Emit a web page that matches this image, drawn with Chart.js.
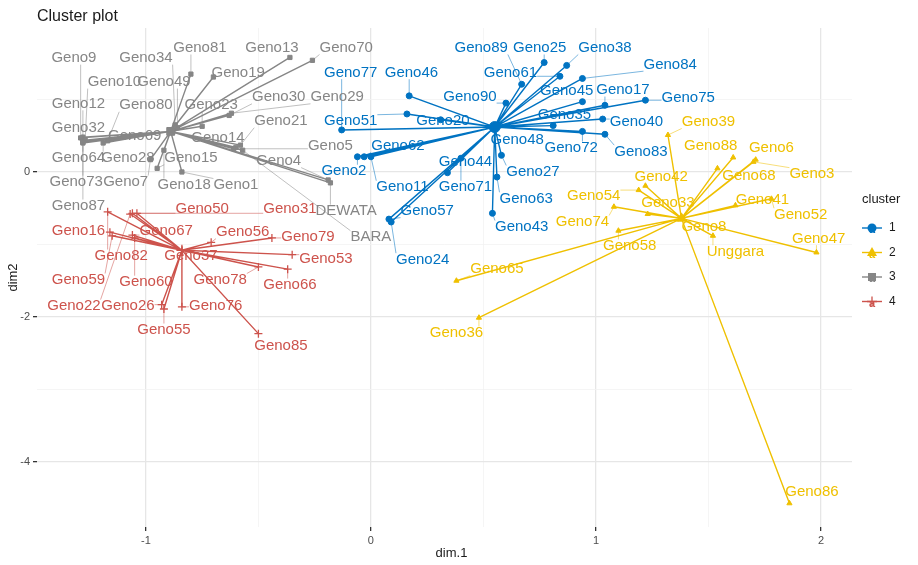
<!DOCTYPE html>
<html>
<head>
<meta charset="utf-8">
<script src="https://cdn.jsdelivr.net/npm/chart.js@4.4.1/dist/chart.umd.min.js"></script>
<style>
  body { margin: 0; background: #fff; }
  canvas { display: block; }
</style>
</head>
<body>
<canvas id="chart" width="918" height="565"></canvas>
<script>
// ================= DATA =================
const clusterIds = ['1', '2', '3', '4'];

// cluster 1 (blue)
const c1Names = ['Geno77','Geno46','Geno51','Geno20','Geno2','Geno62','Geno11','Geno57','Geno24','Geno44','Geno71','Geno43','Geno63','Geno27','Geno48','Geno90','Geno89','Geno25','Geno38','Geno61','Geno84','Geno45','Geno17','Geno75','Geno40','Geno83','Geno72','Geno35'];
const c1Dim1 = [-0.13,0.17,0.16,0.31,-0.06,-0.03,0.00,0.08,0.09,0.34,0.40,0.54,0.56,0.58,0.55,0.60,0.67,0.77,0.87,0.84,0.94,0.94,1.04,1.22,1.03,1.04,0.94,0.81];
const c1Dim2 = [0.58,1.05,0.80,0.72,0.21,0.21,0.21,-0.65,-0.69,-0.01,0.19,-0.57,-0.07,0.23,0.61,0.95,1.21,1.51,1.47,1.32,1.29,0.97,0.92,0.99,0.73,0.52,0.56,0.64];

// cluster 2 (yellow)
const c2Names = ['Geno8','Geno39','Geno88','Geno68','Geno6','Geno3','Geno42','Geno54','Geno74','Geno33','Geno58','Geno65','Geno36','Geno52','Geno41','Geno47','Unggara','Geno86'];
const c2Dim1 = [1.38,1.32,1.61,1.54,1.71,1.70,1.22,1.19,1.08,1.23,1.10,0.38,0.48,1.78,1.62,1.98,1.52,1.86];
const c2Dim2 = [-0.63,0.51,0.20,0.05,0.17,0.14,-0.19,-0.25,-0.48,-0.58,-0.81,-1.50,-2.01,-0.37,-0.46,-1.11,-0.88,-4.57];

// cluster 3 (grey)
const c3Names = ['Geno13','Geno70','Geno81','Geno19','Geno30','Geno29','Geno23','Geno21','Geno14','Geno5','Geno4','DEWATA','BARA','Geno1','Geno15','Geno18','Geno7','Geno28','Geno80','Geno32','Geno9','Geno12','Geno10','Geno64','Geno73','Geno87','Geno34','Geno49','Geno69'];
const c3Dim1 = [-0.36,-0.26,-0.80,-0.70,-0.63,-0.62,-0.75,-0.58,-0.60,-0.61,-0.19,-0.18,-0.57,-0.84,-0.95,-0.92,-0.98,-1.19,-1.17,-1.28,-1.29,-1.28,-1.27,-1.28,-1.28,-1.28,-0.87,-0.86,-0.88];
const c3Dim2 = [1.58,1.54,1.35,1.31,0.78,0.81,0.63,0.37,0.34,0.32,-0.11,-0.15,0.30,0.00,0.05,0.30,0.17,0.40,0.43,0.43,0.47,0.48,0.44,0.40,0.41,0.42,0.65,0.61,0.55];

// cluster 4 (red)
const c4Names = ['Geno37','Geno50','Geno31','Geno22','Geno82','Geno16','Geno59','Geno67','Geno60','Geno56','Geno79','Geno53','Geno66','Geno78','Geno26','Geno55','Geno76','Geno85'];
const c4Dim1 = [-0.84,-1.06,-1.04,-1.07,-1.17,-1.16,-1.15,-1.06,-1.05,-0.71,-0.44,-0.35,-0.37,-0.50,-0.93,-0.92,-0.84,-0.50];
const c4Dim2 = [-1.08,-0.57,-0.57,-0.58,-0.55,-0.83,-0.88,-0.87,-0.91,-0.97,-0.91,-1.14,-1.34,-1.31,-1.83,-1.89,-1.86,-2.23];

// cluster centres
const centerDim1 = [0.55, 1.38, -0.89, -0.84];
const centerDim2 = [0.62, -0.64, 0.56, -1.08];

// tick labels
const xTickLabels = [-1, 0, 1, 2];
const yTickLabels = [-4, -2, 0];

// ================= LABEL PLACEMENT (repelled text, data units) =================
const labelAt = {
  Geno9:[-1.32,1.57], Geno34:[-1.00,1.57], Geno81:[-0.76,1.71], Geno13:[-0.44,1.71], Geno70:[-0.11,1.71],
  Geno10:[-1.14,1.24], Geno49:[-0.92,1.24], Geno19:[-0.59,1.37], Geno12:[-1.30,0.94], Geno80:[-1.00,0.92],
  Geno23:[-0.71,0.92], Geno30:[-0.41,1.03], Geno29:[-0.15,1.03], Geno32:[-1.30,0.61], Geno21:[-0.40,0.70],
  Geno69:[-1.05,0.50], Geno14:[-0.68,0.47], Geno5:[-0.18,0.36], Geno64:[-1.30,0.19], Geno28:[-1.08,0.19],
  Geno15:[-0.80,0.19], Geno4:[-0.41,0.15], Geno73:[-1.31,-0.14], Geno7:[-1.09,-0.14], Geno18:[-0.83,-0.18],
  Geno1:[-0.60,-0.18], Geno87:[-1.30,-0.47], DEWATA:[-0.11,-0.54], BARA:[0.00,-0.90],

  Geno89:[0.49,1.71], Geno25:[0.75,1.71], Geno38:[1.04,1.71], Geno84:[1.33,1.48], Geno77:[-0.09,1.37],
  Geno46:[0.18,1.37], Geno61:[0.62,1.37], Geno45:[0.87,1.12], Geno17:[1.12,1.13], Geno75:[1.41,1.02],
  Geno90:[0.44,1.03], Geno51:[-0.09,0.70], Geno20:[0.32,0.70], Geno35:[0.86,0.79], Geno40:[1.18,0.69],
  Geno62:[0.12,0.36], Geno48:[0.65,0.44], Geno72:[0.89,0.33], Geno83:[1.20,0.28], Geno2:[-0.12,0.01],
  Geno44:[0.42,0.14], Geno27:[0.72,0.00], Geno11:[0.14,-0.21], Geno71:[0.42,-0.21], Geno63:[0.69,-0.37],
  Geno57:[0.25,-0.54], Geno43:[0.67,-0.76], Geno24:[0.23,-1.21],

  Geno39:[1.50,0.69], Geno88:[1.51,0.36], Geno6:[1.78,0.33], Geno3:[1.96,-0.03], Geno42:[1.29,-0.07],
  Geno68:[1.68,-0.06], Geno54:[0.99,-0.33], Geno33:[1.32,-0.43], Geno41:[1.74,-0.39], Geno52:[1.91,-0.59],
  Geno74:[0.94,-0.69], Geno8:[1.48,-0.76], Geno58:[1.15,-1.02], Unggara:[1.62,-1.10], Geno47:[1.99,-0.92],
  Geno65:[0.56,-1.34], Geno36:[0.38,-2.22], Geno86:[1.96,-4.41],

  Geno50:[-0.75,-0.51], Geno31:[-0.36,-0.51], Geno16:[-1.30,-0.81], Geno67:[-0.91,-0.81], Geno56:[-0.57,-0.83],
  Geno79:[-0.28,-0.90], Geno82:[-1.11,-1.16], Geno37:[-0.80,-1.16], Geno53:[-0.20,-1.20], Geno59:[-1.30,-1.49],
  Geno60:[-1.00,-1.52], Geno78:[-0.67,-1.49], Geno66:[-0.36,-1.56], Geno22:[-1.32,-1.85], Geno26:[-1.08,-1.85],
  Geno76:[-0.69,-1.85], Geno55:[-0.92,-2.18], Geno85:[-0.40,-2.40]
};

// ================= STYLE =================
const colors = ['#0073C2', '#EFC000', '#868686', '#CD534C'];
const shapes = ['circle', 'triangle', 'rect', 'cross'];
const FONT = '"Liberation Sans", Arial, Helvetica, sans-serif';

const clusters = [
  {names: c1Names, xs: c1Dim1, ys: c1Dim2},
  {names: c2Names, xs: c2Dim1, ys: c2Dim2},
  {names: c3Names, xs: c3Dim1, ys: c3Dim2},
  {names: c4Names, xs: c4Dim1, ys: c4Dim2}
];

// ================= DATASETS =================
const datasets = [];
clusters.forEach((c, ci) => {
  const centre = {x: centerDim1[ci], y: centerDim2[ci]};
  // star segments: centre -> point -> centre -> ...
  const star = [];
  c.names.forEach((n, i) => {
    star.push(centre);
    star.push({x: c.xs[i], y: c.ys[i]});
  });
  datasets.push({
    label: 'star' + clusterIds[ci],
    data: star,
    showLine: true,
    borderColor: colors[ci],
    borderWidth: 1.4,
    pointRadius: 0,
    tension: 0,
    order: 2
  });
  const pts = c.names.map((n, i) => ({x: c.xs[i], y: c.ys[i]}));
  pts.push(centre);
  const last = pts.length - 1;
  datasets.push({
    label: clusterIds[ci],
    data: pts,
    showLine: false,
    pointStyle: shapes[ci],
    pointRadius: ctx => ctx.dataIndex === last ? 5.5 : (ci === 3 ? 4 : 3),
    backgroundColor: colors[ci],
    borderColor: colors[ci],
    borderWidth: ci === 3 ? 1.3 : 1,
    order: 1
  });
});

// ================= PLUGINS =================
const labelPlugin = {
  id: 'genoLabels',
  afterDatasetsDraw(chart) {
    const {ctx, scales: {x, y}} = chart;
    ctx.save();
    ctx.font = '15px ' + FONT;
    ctx.textAlign = 'center';
    ctx.textBaseline = 'middle';
    clusters.forEach((c, ci) => {
      c.names.forEach((name, i) => {
        const px = x.getPixelForValue(c.xs[i]);
        const py = y.getPixelForValue(c.ys[i]);
        const lp = labelAt[name];
        if (!lp) return;
        const lx = x.getPixelForValue(lp[0]);
        const ly = y.getPixelForValue(lp[1]);
        const w = ctx.measureText(name).width;
        const h = 13;
        const bx = Math.max(lx - w / 2, Math.min(px, lx + w / 2));
        const by = Math.max(ly - h / 2, Math.min(py, ly + h / 2));
        if (Math.hypot(px - bx, py - by) > 6) {
          ctx.strokeStyle = colors[ci];
          ctx.globalAlpha = 0.75;
          ctx.lineWidth = 0.7;
          ctx.beginPath();
          ctx.moveTo(bx, by);
          ctx.lineTo(px, py);
          ctx.stroke();
          ctx.globalAlpha = 1;
        }
        ctx.fillStyle = colors[ci];
        ctx.fillText(name, lx, ly);
      });
    });
    ctx.restore();
  }
};

const decorPlugin = {
  id: 'decor',
  afterDraw(chart) {
    const {ctx, chartArea} = chart;
    ctx.save();
    // title
    ctx.fillStyle = '#1a1a1a';
    ctx.font = '16px ' + FONT;
    ctx.textAlign = 'left';
    ctx.textBaseline = 'middle';
    ctx.fillText('Cluster plot', chartArea.left, 17);

    // axis titles
    ctx.font = '13px ' + FONT;
    ctx.textAlign = 'center';
    ctx.fillText('dim.1', (chartArea.left + chartArea.right) / 2 + 7, 553);
    ctx.save();
    ctx.translate(13, (chartArea.top + chartArea.bottom) / 2);
    ctx.rotate(-Math.PI / 2);
    ctx.fillText('dim2', 0, 0);
    ctx.restore();

    // legend
    const lx = 862;
    ctx.textAlign = 'left';
    ctx.font = '13px ' + FONT;
    ctx.fillStyle = '#1a1a1a';
    ctx.fillText('cluster', lx, 199);
    clusterIds.forEach((id, i) => {
      const ky = 228 + i * 24.5;
      const cx = lx + 10;
      ctx.strokeStyle = colors[i];
      ctx.fillStyle = colors[i];
      ctx.lineWidth = 1.4;
      ctx.beginPath();
      ctx.moveTo(lx, ky);
      ctx.lineTo(lx + 20, ky);
      ctx.stroke();
      ctx.font = 'bold 11px ' + FONT;
      ctx.textAlign = 'center';
      ctx.fillText('a', cx, ky + 2);
      ctx.beginPath();
      if (shapes[i] === 'circle') {
        ctx.arc(cx, ky, 4.5, 0, Math.PI * 2);
        ctx.fill();
      } else if (shapes[i] === 'triangle') {
        ctx.moveTo(cx, ky - 5.5);
        ctx.lineTo(cx + 5, ky + 3.5);
        ctx.lineTo(cx - 5, ky + 3.5);
        ctx.closePath();
        ctx.fill();
      } else if (shapes[i] === 'rect') {
        ctx.fillRect(cx - 4, ky - 4, 8, 8);
      } else {
        ctx.lineWidth = 1.3;
        ctx.moveTo(cx - 5, ky); ctx.lineTo(cx + 5, ky);
        ctx.moveTo(cx, ky - 5); ctx.lineTo(cx, ky + 5);
        ctx.stroke();
      }
      ctx.fillStyle = '#1a1a1a';
      ctx.font = '12px ' + FONT;
      ctx.textAlign = 'left';
      ctx.fillText(id, lx + 27, ky);
    });
    ctx.restore();
  }
};

// ================= CHART =================
const isMajorX = v => xTickLabels.includes(v);
const isMajorY = v => yTickLabels.includes(v);

new Chart(document.getElementById('chart'), {
  type: 'scatter',
  data: {datasets: datasets},
  options: {
    responsive: false,
    animation: false,
    devicePixelRatio: 1,
    layout: {padding: {top: 28, right: 66, left: 0, bottom: 0}},
    plugins: {legend: {display: false}, tooltip: {enabled: false}},
    scales: {
      x: {
        type: 'linear',
        min: -1.484,
        max: 2.138,
        afterFit: s => { s.height = 38; },
        border: {display: false},
        grid: {
          color: c => isMajorX(c.tick.value) ? '#E6E6E6' : '#F2F2F2',
          lineWidth: c => isMajorX(c.tick.value) ? 1.3 : 0.8,
          tickColor: c => isMajorX(c.tick.value) ? '#333333' : 'rgba(0,0,0,0)',
          tickLength: 4
        },
        ticks: {
          stepSize: 0.5,
          includeBounds: false,
          autoSkip: false,
          maxRotation: 0,
          padding: 3,
          color: '#4D4D4D',
          font: {size: 11, family: FONT},
          callback: v => isMajorX(v) ? String(v) : ''
        }
      },
      y: {
        type: 'linear',
        min: -4.897,
        max: 1.986,
        afterFit: s => { s.width = 37; },
        border: {display: false},
        grid: {
          color: c => isMajorY(c.tick.value) ? '#E6E6E6' : '#F2F2F2',
          lineWidth: c => isMajorY(c.tick.value) ? 1.3 : 0.8,
          tickColor: c => isMajorY(c.tick.value) ? '#333333' : 'rgba(0,0,0,0)',
          tickLength: 4
        },
        ticks: {
          stepSize: 1,
          includeBounds: false,
          autoSkip: false,
          padding: 3,
          color: '#4D4D4D',
          font: {size: 11, family: FONT},
          callback: v => isMajorY(v) ? String(v) : ''
        }
      }
    }
  },
  plugins: [labelPlugin, decorPlugin]
});
</script>
</body>
</html>
